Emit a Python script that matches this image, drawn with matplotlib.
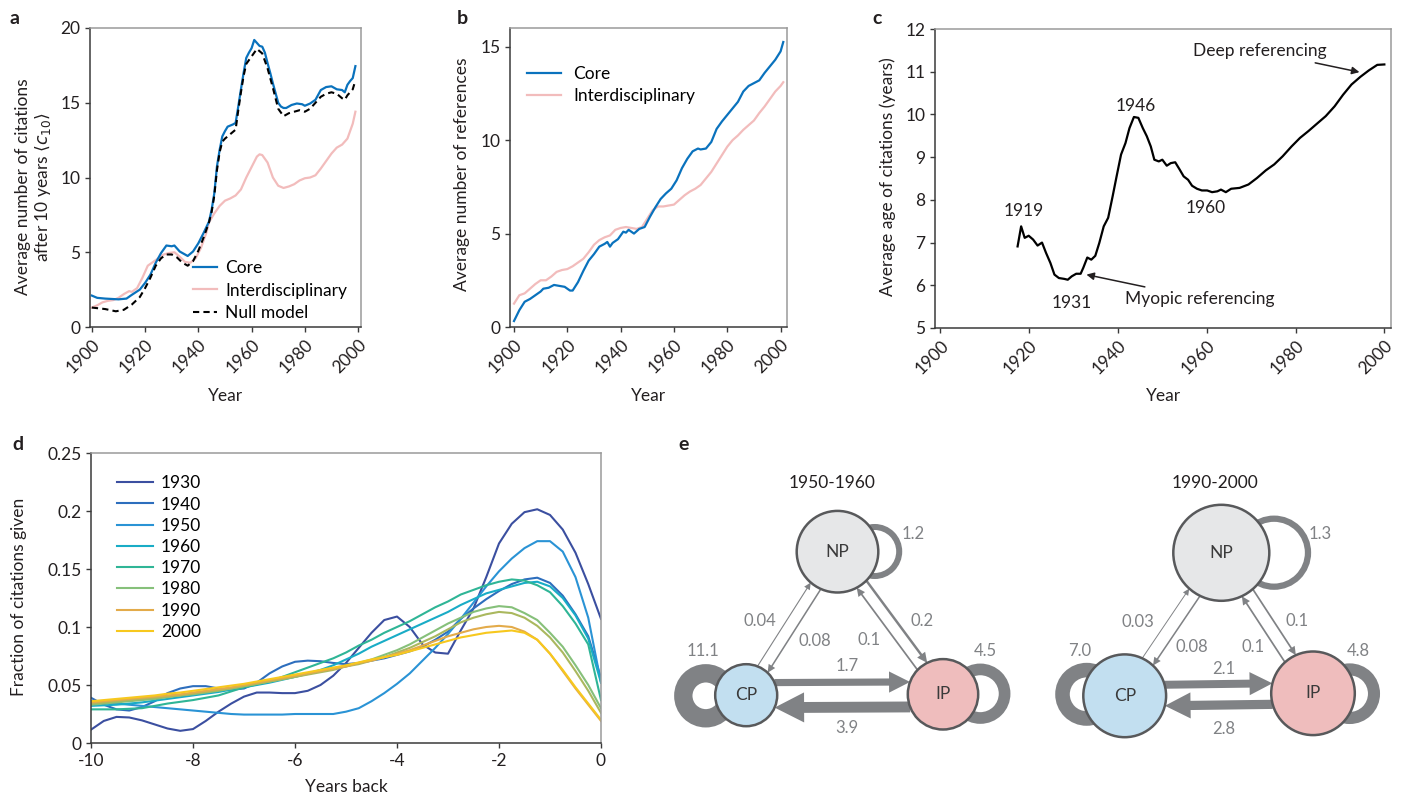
import numpy as np
import matplotlib
matplotlib.use('Agg')
import matplotlib.pyplot as plt
from matplotlib.patches import Circle, Polygon

plt.rcParams['font.family'] = ['Lato', 'DejaVu Sans']
plt.rcParams['mathtext.fontset'] = 'dejavusans'
plt.rcParams['axes.unicode_minus'] = False

# ---------------- data ----------------
# a: average citations after 10 years
a_core_yr = [1900, 1902, 1905, 1910, 1913, 1915, 1918, 1920, 1922, 1924, 1926, 1928, 1930, 1931, 1933,
             1935, 1936, 1938, 1940, 1942, 1944, 1945, 1946, 1947, 1948, 1949, 1950, 1951, 1953, 1954,
             1955, 1956, 1957, 1958, 1959, 1960, 1961, 1962, 1963, 1964, 1965, 1966, 1967, 1968, 1969,
             1970, 1971, 1972, 1973, 1975, 1977, 1979, 1980, 1982, 1984, 1986, 1988, 1990, 1992, 1994,
             1995, 1996, 1997, 1998, 1999]
a_core = [2.1, 1.95, 1.9, 1.85, 1.9, 2.15, 2.5, 2.95, 3.5, 4.3, 4.95, 5.45, 5.4, 5.45, 5.05,
          4.85, 4.75, 5.05, 5.6, 6.3, 7.05, 7.85, 8.95, 10.75, 11.85, 12.75, 13.1, 13.4, 13.55, 13.65,
          14.75, 15.9, 17.0, 18.0, 18.35, 18.65, 19.2, 19.0, 18.8, 18.75, 18.35, 17.65, 17.0, 16.3, 15.65,
          15.0, 14.75, 14.65, 14.65, 14.85, 14.95, 14.9, 14.8, 14.95, 15.2, 15.85, 16.05, 16.1, 15.9, 15.85,
          15.7, 16.2, 16.45, 16.65, 17.45]
a_inter_yr = [1900, 1902, 1904, 1906, 1908, 1910, 1912, 1914, 1915, 1917, 1919, 1921, 1923, 1925, 1927,
              1929, 1931, 1933, 1935, 1937, 1939, 1941, 1943, 1944, 1946, 1948, 1950, 1952, 1954, 1956,
              1958, 1960, 1962, 1963, 1964, 1966, 1968, 1970, 1972, 1974, 1976, 1978, 1980, 1982, 1984,
              1986, 1988, 1990, 1992, 1994, 1996, 1998, 1999]
a_inter = [1.3, 1.45, 1.65, 1.75, 1.8, 1.95, 2.2, 2.4, 2.35, 2.6, 3.3, 4.1, 4.35, 4.6, 4.85,
           4.95, 5.0, 4.7, 4.35, 4.3, 4.6, 5.3, 6.3, 7.0, 7.6, 8.1, 8.45, 8.6, 8.8, 9.2,
           10.0, 10.7, 11.4, 11.55, 11.5, 11.0, 10.0, 9.45, 9.3, 9.4, 9.55, 9.8, 9.95, 10.0, 10.15,
           10.6, 11.1, 11.6, 12.0, 12.2, 12.6, 13.6, 14.4]
a_null_yr = [1900, 1905, 1909, 1912, 1915, 1918, 1920, 1922, 1924, 1926, 1928, 1930, 1932, 1934, 1936,
             1938, 1940, 1942, 1944, 1945, 1946, 1947, 1948, 1949, 1950, 1952, 1954, 1955, 1956, 1957,
             1958, 1960, 1962, 1964, 1966, 1968, 1970, 1972, 1974, 1976, 1978, 1980, 1982, 1984, 1986,
             1988, 1990, 1992, 1994, 1995, 1996, 1998, 1999]
a_null = [1.3, 1.2, 1.05, 1.15, 1.5, 2.0, 2.6, 3.3, 4.1, 4.6, 4.85, 4.85, 4.65, 4.3, 4.1,
          4.4, 5.1, 6.0, 7.0, 7.7, 8.8, 10.5, 11.7, 12.4, 12.6, 12.9, 13.2, 14.5, 15.7, 16.8,
          17.6, 18.1, 18.6, 18.3, 17.3, 16.0, 14.6, 14.1, 14.3, 14.4, 14.5, 14.4, 14.6, 15.0, 15.4,
          15.6, 15.7, 15.6, 15.3, 15.2, 15.5, 15.9, 16.5]

# b: average number of references
b_core_yr = [1900, 1902, 1904, 1906, 1908, 1910, 1911, 1913, 1915, 1917, 1919, 1921, 1922, 1924, 1926,
             1928, 1930, 1932, 1934, 1935, 1936, 1937, 1939, 1941, 1942, 1943, 1945, 1947, 1949, 1951,
             1953, 1955, 1957, 1959, 1961, 1963, 1965, 1967, 1969, 1970, 1972, 1974, 1976, 1978, 1980,
             1982, 1984, 1986, 1988, 1990, 1992, 1994, 1996, 1998, 2000, 2001]
b_core = [0.32, 0.9, 1.35, 1.5, 1.7, 1.9, 2.05, 2.1, 2.25, 2.2, 2.15, 1.95, 1.95, 2.4, 3.0,
          3.55, 3.9, 4.3, 4.45, 4.55, 4.3, 4.5, 4.7, 5.1, 5.05, 5.2, 5.0, 5.25, 5.35, 5.9,
          6.4, 6.85, 7.15, 7.4, 7.85, 8.5, 9.0, 9.4, 9.55, 9.5, 9.55, 9.9, 10.6, 11.0, 11.35,
          11.7, 12.05, 12.6, 12.9, 13.05, 13.2, 13.6, 13.95, 14.3, 14.75, 15.25]
b_inter_yr = [1900, 1902, 1904, 1906, 1908, 1910, 1912, 1914, 1916, 1918, 1920, 1922, 1924, 1926, 1928,
              1930, 1932, 1934, 1936, 1938, 1940, 1942, 1944, 1946, 1948, 1950, 1952, 1954, 1956, 1958,
              1960, 1962, 1964, 1966, 1968, 1970, 1972, 1974, 1976, 1978, 1980, 1982, 1984, 1986, 1988,
              1990, 1992, 1994, 1996, 1998, 2000, 2001]
b_inter = [1.25, 1.7, 1.8, 2.05, 2.3, 2.5, 2.5, 2.7, 2.95, 3.05, 3.1, 3.25, 3.45, 3.65, 4.0,
           4.4, 4.65, 4.8, 4.9, 5.2, 5.3, 5.35, 5.3, 5.25, 5.35, 5.8, 6.25, 6.45, 6.45, 6.5,
           6.55, 6.8, 7.05, 7.25, 7.4, 7.6, 7.95, 8.3, 8.75, 9.2, 9.65, 10.0, 10.25, 10.55, 10.8,
           11.05, 11.45, 11.8, 12.2, 12.6, 12.9, 13.1]

# c: average age of citations
c_year = [1917.4, 1918.2, 1919.0, 1919.9, 1920.9, 1921.9, 1922.9, 1923.8, 1924.8, 1925.7, 1926.7, 1927.9,
          1928.7, 1929.6, 1930.6, 1931.6, 1932.2, 1933.1, 1934.0, 1934.9, 1935.8, 1936.8, 1937.8, 1938.8,
          1939.7, 1940.7, 1941.7, 1942.6, 1943.6, 1944.6, 1945.6, 1946.5, 1947.4, 1948.2, 1949.2, 1950.0,
          1951.0, 1951.9, 1952.9, 1953.9, 1954.8, 1955.8, 1956.7, 1957.8, 1958.9, 1960.1, 1961.2, 1962.4,
          1963.2, 1964.3, 1965.5, 1967.4, 1969.4, 1971.3, 1973.3, 1975.2, 1977.1, 1979.1, 1981.0, 1982.9,
          1984.9, 1986.8, 1988.8, 1990.7, 1992.6, 1994.6, 1996.5, 1998.4, 2000.0]
c_age = [6.91, 7.38, 7.11, 7.16, 7.07, 6.93, 7.0, 6.76, 6.52, 6.25, 6.17, 6.15,
         6.13, 6.21, 6.27, 6.27, 6.41, 6.65, 6.6, 6.69, 6.99, 7.38, 7.58, 8.08,
         8.55, 9.06, 9.33, 9.68, 9.94, 9.92, 9.68, 9.49, 9.25, 8.94, 8.9, 8.94,
         8.8, 8.86, 8.88, 8.71, 8.55, 8.47, 8.33, 8.26, 8.22, 8.22, 8.18, 8.2,
         8.24, 8.18, 8.26, 8.28, 8.36, 8.51, 8.69, 8.83, 9.02, 9.25, 9.45, 9.61,
         9.79, 9.96, 10.19, 10.46, 10.7, 10.88, 11.03, 11.16, 11.17]

# d: fraction of citations given vs years back
d_back = [-10, -9.75, -9.5, -9.25, -9, -8.75, -8.5, -8.25, -8, -7.75, -7.5, -7.25, -7, -6.75, -6.5,
          -6.25, -6, -5.75, -5.5, -5.25, -5, -4.75, -4.5, -4.25, -4, -3.75, -3.5, -3.25, -3, -2.75,
          -2.5, -2.25, -2, -1.75, -1.5, -1.25, -1, -0.75, -0.5, -0.25, 0]
d_1930 = [0.0115, 0.019, 0.0225, 0.022, 0.0195, 0.016, 0.0125, 0.0105, 0.012, 0.019, 0.027, 0.034, 0.040,
          0.0435, 0.0435, 0.043, 0.043, 0.045, 0.050, 0.058, 0.069, 0.082, 0.095, 0.106, 0.109, 0.100,
          0.085, 0.078, 0.077, 0.097, 0.116, 0.143, 0.172, 0.189, 0.199, 0.2015, 0.1966, 0.184, 0.164,
          0.137, 0.107]
d_1940 = [0.039, 0.033, 0.029, 0.028, 0.031, 0.036, 0.043, 0.047, 0.049, 0.049, 0.047, 0.046, 0.047,
          0.052, 0.060, 0.066, 0.070, 0.071, 0.0705, 0.069, 0.068, 0.069, 0.071, 0.073, 0.076, 0.079,
          0.083, 0.089, 0.096, 0.107, 0.116, 0.124, 0.131, 0.137, 0.141, 0.1425, 0.138, 0.127, 0.111,
          0.092, 0.056]
d_1950 = [0.036, 0.035, 0.034, 0.033, 0.032, 0.031, 0.030, 0.029, 0.028, 0.027, 0.026, 0.025, 0.0245,
          0.0245, 0.0245, 0.0245, 0.025, 0.025, 0.025, 0.025, 0.027, 0.030, 0.036, 0.043, 0.051, 0.060,
          0.071, 0.082, 0.094, 0.107, 0.121, 0.135, 0.148, 0.159, 0.168, 0.174, 0.174, 0.165, 0.143,
          0.108, 0.052]
d_1960 = [0.032, 0.0325, 0.033, 0.034, 0.035, 0.0365, 0.038, 0.0395, 0.041, 0.0425, 0.044, 0.046, 0.048,
          0.050, 0.052, 0.0545, 0.057, 0.060, 0.063, 0.067, 0.072, 0.077, 0.083, 0.088, 0.093, 0.098,
          0.103, 0.108, 0.113, 0.119, 0.124, 0.129, 0.132, 0.135, 0.138, 0.139, 0.135, 0.125, 0.110,
          0.090, 0.052]
d_1970 = [0.029, 0.029, 0.029, 0.0295, 0.030, 0.032, 0.034, 0.0355, 0.037, 0.039, 0.041, 0.0445, 0.048,
          0.0505, 0.053, 0.057, 0.061, 0.065, 0.069, 0.073, 0.078, 0.084, 0.089, 0.095, 0.100, 0.105,
          0.111, 0.117, 0.122, 0.128, 0.132, 0.136, 0.139, 0.141, 0.140, 0.136, 0.130, 0.118, 0.103,
          0.085, 0.037]
d_1980 = [0.033, 0.034, 0.035, 0.036, 0.037, 0.038, 0.0395, 0.041, 0.042, 0.0435, 0.045, 0.047, 0.049,
          0.051, 0.053, 0.055, 0.057, 0.0595, 0.062, 0.064, 0.066, 0.069, 0.072, 0.076, 0.080, 0.085,
          0.091, 0.097, 0.103, 0.108, 0.113, 0.116, 0.118, 0.117, 0.112, 0.106, 0.095, 0.083, 0.067,
          0.050, 0.030]
d_extra = [0.034, 0.035, 0.036, 0.037, 0.038, 0.039, 0.040, 0.041, 0.0425, 0.044, 0.0455, 0.047, 0.049,
           0.051, 0.053, 0.055, 0.057, 0.059, 0.061, 0.063, 0.066, 0.068, 0.071, 0.074, 0.078, 0.082,
           0.087, 0.092, 0.098, 0.104, 0.108, 0.111, 0.113, 0.112, 0.108, 0.101, 0.091, 0.078, 0.062,
           0.045, 0.026]
d_1990 = [0.035, 0.036, 0.037, 0.038, 0.039, 0.040, 0.041, 0.042, 0.0435, 0.045, 0.0465, 0.048, 0.050,
          0.052, 0.054, 0.056, 0.058, 0.060, 0.062, 0.064, 0.066, 0.069, 0.071, 0.074, 0.077, 0.080,
          0.084, 0.088, 0.092, 0.095, 0.098, 0.100, 0.101, 0.100, 0.096, 0.089, 0.077, 0.062, 0.047,
          0.033, 0.019]
d_2000 = [0.036, 0.037, 0.038, 0.039, 0.040, 0.041, 0.0425, 0.0435, 0.045, 0.0465, 0.048, 0.0495, 0.051,
          0.053, 0.055, 0.057, 0.059, 0.061, 0.063, 0.065, 0.067, 0.0695, 0.072, 0.074, 0.076, 0.079,
          0.082, 0.085, 0.088, 0.091, 0.093, 0.095, 0.096, 0.097, 0.095, 0.089, 0.077, 0.063, 0.048,
          0.034, 0.020]
d_labels = ['1930', '1940', '1950', '1960', '1970', '1980', '_extra', '1990', '2000']
d_series = [d_1930, d_1940, d_1950, d_1960, d_1970, d_1980, d_extra, d_1990, d_2000]
d_colors = ['#3b4fa0', '#2d6ebd', '#2a93d5', '#19acc6', '#2fb596', '#86c07a', '#aab85e', '#e3ab4a', '#f7c81e']

# e: citation flows between core (CP), interdisciplinary (IP) and non-physics (NP)
e_periods = ['1950-1960', '1990-2000']
e_flows = [
    {('CP', 'NP'): 0.04, ('NP', 'CP'): 0.08, ('IP', 'NP'): 0.1, ('NP', 'IP'): 0.2,
     ('CP', 'IP'): 1.7, ('IP', 'CP'): 3.9},
    {('CP', 'NP'): 0.03, ('NP', 'CP'): 0.08, ('IP', 'NP'): 0.1, ('NP', 'IP'): 0.1,
     ('CP', 'IP'): 2.1, ('IP', 'CP'): 2.8},
]
e_self = [{'NP': 1.2, 'CP': 11.1, 'IP': 4.5}, {'NP': 1.3, 'CP': 7.0, 'IP': 4.8}]
e_selflabels = [{'NP': '1.2', 'CP': '11.1', 'IP': '4.5'}, {'NP': '1.3', 'CP': '7.0', 'IP': '4.8'}]

# ---------------- figure ----------------
W, H = 1402, 797
DARK = '#231f20'
BLUE = '#0a72bd'
PINK = '#f2bcbc'
GREY = '#808285'
FS = 12.5

fig = plt.figure(figsize=(W / 100, H / 100), dpi=100)


def box(l, t, r, b):
    return [l / W, 1 - b / H, (r - l) / W, (b - t) / H]


def style(ax):
    for s in ['left', 'bottom']:
        ax.spines[s].set_color('#3a3a3a')
        ax.spines[s].set_linewidth(1.1)
    for s in ['top', 'right']:
        ax.spines[s].set_color('#9a9a9a')
        ax.spines[s].set_linewidth(1.1)
    ax.tick_params(direction='out', length=3.5, width=1, color='#3a3a3a',
                   labelsize=FS, labelcolor=DARK)


def rot_years(ax):
    ax.set_xticks([1900, 1920, 1940, 1960, 1980, 2000])
    for lab in ax.get_xticklabels():
        lab.set_rotation(45)
        lab.set_ha('right')
        lab.set_rotation_mode('anchor')


def panel_letter(x, y, s):
    fig.text(x / W, 1 - y / H, s, fontsize=14, fontweight='bold', color=DARK,
             ha='left', va='center')


# ---- a ----
ax = fig.add_axes(box(90, 28, 361, 327))
style(ax)
ax.plot(a_core_yr, a_core, color=BLUE, lw=1.6, label='Core', zorder=3)
ax.plot(a_inter_yr, a_inter, color=PINK, lw=1.6, label='Interdisciplinary', zorder=2)
ax.plot(a_null_yr, a_null, color='black', lw=1.5, ls=(0, (3, 2)), label='Null model', zorder=4)
ax.set_xlim(1899.3, 2001.1)
ax.set_ylim(0, 20)
ax.set_yticks([0, 5, 10, 15, 20])
rot_years(ax)
ax.set_ylabel('Average number of citations\nafter 10 years $\\langle c_{10}\\rangle$',
              fontsize=FS, color=DARK, linespacing=1.15)
ax.yaxis.set_label_coords(-0.135, 0.47)
ax.set_xlabel('Year', fontsize=FS, color=DARK)
ax.xaxis.set_label_coords(0.5, -0.205)
ax.legend(loc='upper left', bbox_to_anchor=(0.38, 0.223), frameon=False, fontsize=FS,
          handlelength=1.4, handletextpad=0.45, labelspacing=0.36, borderpad=0, borderaxespad=0)
panel_letter(9, 18, 'a')

# ---- b ----
ax = fig.add_axes(box(510, 28, 787, 327))
style(ax)
ax.plot(b_core_yr, b_core, color=BLUE, lw=1.6, label='Core', zorder=3)
ax.plot(b_inter_yr, b_inter, color=PINK, lw=1.6, label='Interdisciplinary', zorder=2)
ax.set_xlim(1898.5, 2002.4)
ax.set_ylim(0, 16)
ax.set_yticks([0, 5, 10, 15])
rot_years(ax)
ax.set_ylabel('Average number of references', fontsize=FS, color=DARK)
ax.yaxis.set_label_coords(-0.145, 0.51)
ax.set_xlabel('Year', fontsize=FS, color=DARK)
ax.xaxis.set_label_coords(0.5, -0.205)
ax.legend(loc='upper left', bbox_to_anchor=(0.06, 0.873), frameon=False, fontsize=FS,
          handlelength=2.0, handletextpad=0.7, labelspacing=0.33, borderpad=0, borderaxespad=0)
panel_letter(457, 18, 'b')

# ---- c ----
ax = fig.add_axes(box(935, 29, 1391, 328))
style(ax)
ax.plot(c_year, c_age, color='black', lw=1.6)
ax.set_xlim(1898.8, 2001.5)
ax.set_ylim(5, 12)
ax.set_yticks(range(5, 13))
rot_years(ax)
ax.set_ylabel('Average age of citations (years)', fontsize=FS, color=DARK)
ax.yaxis.set_label_coords(-0.085, 0.506)
ax.set_xlabel('Year', fontsize=FS, color=DARK)
ax.xaxis.set_label_coords(0.5, -0.2)
for txt, x, y in [('1919', 1918.8, 7.73), ('1946', 1944.0, 10.19),
                  ('1931', 1929.5, 5.59), ('1960', 1959.8, 7.81)]:
    ax.text(x, y, txt, fontsize=FS, color=DARK, ha='center', va='center')
ax.annotate('Myopic referencing', xy=(1932.9, 6.25), xytext=(1941.7, 5.69),
            fontsize=FS, color=DARK, ha='left', va='center',
            arrowprops=dict(arrowstyle='-|>', color=DARK, lw=1.1, mutation_scale=11,
                            shrinkA=3, shrinkB=0))
ax.annotate('Deep referencing', xy=(1994.4, 10.99), xytext=(1987.0, 11.48),
            fontsize=FS, color=DARK, ha='right', va='center',
            arrowprops=dict(arrowstyle='-|>', color=DARK, lw=1.1, mutation_scale=11,
                            shrinkA=3, shrinkB=0))
panel_letter(872, 18, 'c')

# ---- d ----
ax = fig.add_axes(box(91, 453, 601, 743))
style(ax)
for lab, ys, col in zip(d_labels, d_series, d_colors):
    ax.plot(d_back, ys, color=col, lw=1.5, label=lab)
ax.set_xlim(-10, 0)
ax.set_ylim(0, 0.25)
ax.set_xticks([-10, -8, -6, -4, -2, 0])
ax.set_yticks([0, 0.05, 0.1, 0.15, 0.2, 0.25])
ax.set_yticklabels(['0', '0.05', '0.1', '0.15', '0.2', '0.25'])
ax.set_ylabel('Fraction of citations given', fontsize=FS, color=DARK)
ax.yaxis.set_label_coords(-0.125, 0.503)
ax.set_xlabel('Years back', fontsize=FS, color=DARK)
ax.xaxis.set_label_coords(0.5, -0.125)
ax.legend(loc='upper left', bbox_to_anchor=(0.05, 0.923), frameon=False, fontsize=FS,
          handlelength=2.1, handletextpad=0.45, labelspacing=0.3, borderpad=0, borderaxespad=0)
panel_letter(12, 445, 'd')

# ---- e ----
axe = fig.add_axes(box(670, 430, 1402, 797))
axe.set_xlim(670, 1402)
axe.set_ylim(797, 430)
axe.axis('off')
panel_letter(678, 445, 'e')

PT = 0.72  # points per pixel
node_colors = {'NP': '#e6e7e8', 'CP': '#c2dff0', 'IP': '#efbdbd'}
layouts = [
    dict(title=(831.7, 483.3),
         pos={'NP': (837.5, 551.7), 'CP': (746.2, 695.2), 'IP': (943.0, 694.3)},
         rad={'NP': 40.8, 'CP': 31.0, 'IP': 35.2},
         loop={'NP': ((874.7, 551.5), 24.5), 'CP': ((705.8, 695.8), 22.5), 'IP': ((980.3, 693.7), 24.3)},
         loop_lab={'NP': (912.7, 534), 'CP': (703.3, 650.7), 'IP': (985.0, 650.7)},
         lab={('CP', 'NP'): (760.0, 620.7), ('NP', 'CP'): (815.0, 640.7),
              ('IP', 'NP'): (869.3, 640.0), ('NP', 'IP'): (921.7, 620.7),
              ('CP', 'IP'): (846.7, 666.0), ('IP', 'CP'): (846.7, 728.3)},
         thick_off=12.5, thin_off=6.0),
    dict(title=(1215.0, 483.3),
         pos={'NP': (1221.3, 552.8), 'CP': (1124.7, 695.8), 'IP': (1313.0, 693.3)},
         rad={'NP': 48.0, 'CP': 41.4, 'IP': 41.8},
         loop={'NP': ((1274.0, 552.7), 34.0), 'CP': ((1086.7, 694.3), 24.2), 'IP': ((1349.7, 693.7), 24.3)},
         loop_lab={'NP': (1320.0, 534), 'CP': (1080.0, 650.7), 'IP': (1358.3, 650.7)},
         lab={('CP', 'NP'): (1138.3, 621.7), ('NP', 'CP'): (1191.7, 646.7),
              ('IP', 'NP'): (1252.7, 646.7), ('NP', 'IP'): (1296.7, 620.7),
              ('CP', 'IP'): (1223.3, 669.3), ('IP', 'CP'): (1223.3, 729.0)},
         thick_off=10.5, thin_off=6.5),
]


def width_px(v):
    return 5.5 * np.sqrt(v)


def draw_edge(p0, r0, p1, r1, off, w):
    p0 = np.array(p0, float)
    p1 = np.array(p1, float)
    u = (p1 - p0) / np.hypot(*(p1 - p0))
    n = np.array([u[1], -u[0]])  # visual left of the direction (y axis points down)
    s = p0 + n * off + u * np.sqrt(r0 ** 2 - off ** 2)
    t = p1 + n * off - u * np.sqrt(r1 ** 2 - off ** 2)
    hl = 2.3 * w + 4.5
    hw = 2.4 * w + 4.0
    base = t - u * hl
    axe.plot([s[0], base[0] + u[0] * 1.0], [s[1], base[1] + u[1] * 1.0], color=GREY,
             lw=w * PT, solid_capstyle='butt', zorder=2)
    axe.add_patch(Polygon([t, base + n * hw / 2, base - n * hw / 2], closed=True,
                          fc=GREY, ec='none', zorder=2))


for period, flows, selfs, slabs, L in zip(e_periods, e_flows, e_self, e_selflabels, layouts):
    axe.text(*L['title'], period, fontsize=FS, color=DARK, ha='center', va='center')
    for k, (c, r) in L['loop'].items():
        axe.add_patch(Circle(c, r, fill=False, ec=GREY, lw=width_px(selfs[k]) * PT, zorder=1))
        axe.text(*L['loop_lab'][k], slabs[k], fontsize=FS - 0.5, color=GREY, ha='center', va='center')
    for (a, b), v in flows.items():
        off = L['thick_off'] if v >= 1 else L['thin_off']
        draw_edge(L['pos'][a], L['rad'][a], L['pos'][b], L['rad'][b], off, width_px(v))
        axe.text(*L['lab'][(a, b)], f'{v:g}', fontsize=FS - 0.5, color=GREY, ha='center', va='center')
    for k, c in L['pos'].items():
        axe.add_patch(Circle(c, L['rad'][k], fc=node_colors[k], ec='#58595b', lw=1.8, zorder=3))
        axe.text(*c, k, fontsize=FS, color='#3a3a3a', ha='center', va='center', zorder=4)

fig.savefig('out.png', dpi=100)
